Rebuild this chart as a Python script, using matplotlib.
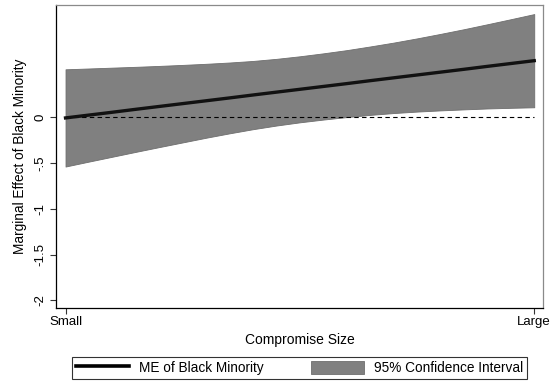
import numpy as np
import matplotlib as mpl
import matplotlib.pyplot as plt
from matplotlib.patches import Patch
from matplotlib.lines import Line2D

plt.rcParams['font.family'] = ['Liberation Sans', 'DejaVu Sans']

# compromise size (0 = small, 1 = large) and values
size = [0.00, 0.05, 0.10, 0.15, 0.20, 0.25, 0.30, 0.35, 0.40, 0.45, 0.50,
        0.55, 0.60, 0.65, 0.70, 0.75, 0.80, 0.85, 0.90, 0.95, 1.00]
me = [-0.010, 0.021, 0.052, 0.084, 0.115, 0.146, 0.177, 0.208, 0.240, 0.271, 0.302,
      0.333, 0.364, 0.396, 0.427, 0.458, 0.489, 0.520, 0.552, 0.583, 0.614]
ci_hi = [0.520, 0.529, 0.538, 0.547, 0.557, 0.568, 0.580, 0.594, 0.611, 0.634, 0.662,
         0.694, 0.729, 0.769, 0.811, 0.857, 0.906, 0.957, 1.011, 1.066, 1.122]
ci_lo = [-0.540, -0.486, -0.433, -0.380, -0.328, -0.277, -0.226, -0.178, -0.133, -0.093, -0.058,
         -0.028, -0.001, 0.023, 0.043, 0.059, 0.072, 0.083, 0.093, 0.100, 0.106]

yticks = [0, -0.5, -1, -1.5, -2]
ytick_labels = ['0', '-.5', '-1', '-1.5', '-2']
xtick_labels = ['Small', 'Large']

fig = plt.figure(figsize=(5.59, 3.81), dpi=100)
ax = fig.add_axes([0.1002, 0.1916, 0.8712, 0.7953])

ax.fill_between(size, ci_lo, ci_hi, color='#808080', edgecolor='#6e6e6e', linewidth=0.6, zorder=1)
ax.plot([size[0], size[-1]], [0, 0], color='black', linewidth=0.8, dashes=(4, 3), zorder=2)
ax.plot(size, me, color='#111111', linewidth=2.4, zorder=3)

ax.set_xlim(-0.0203, 1.0187)
ax.set_ylim(-2.082, 1.221)

ax.set_xticks([0, 1])
ax.set_xticklabels(xtick_labels, fontsize=9.5)
ax.set_yticks(yticks)
ax.set_yticklabels(ytick_labels, fontsize=9.5, rotation=90, va='center')
ax.tick_params(direction='out', length=4, width=0.8, color='#333333')
ax.tick_params(axis='x', pad=2)
ax.tick_params(axis='y', pad=3)

ax.spines['left'].set_color('black')
ax.spines['bottom'].set_color('black')
ax.spines['top'].set_color('#8a8a8a')
ax.spines['right'].set_color('#8a8a8a')
for s in ax.spines.values():
    s.set_linewidth(0.9)

ax.set_xlabel('Compromise Size', fontsize=10, labelpad=3)
ax.set_ylabel('Marginal Effect of Black Minority', fontsize=9.8, labelpad=5)

handles = [Line2D([0], [0], color='black', linewidth=2.6),
           Patch(facecolor='#808080', edgecolor='#6e6e6e', linewidth=0.6)]
labels = ['ME of Black Minority', '95% Confidence Interval']
leg = fig.legend(handles, labels, loc='lower left', ncol=2, mode='expand',
                 bbox_to_anchor=(72 / 559, 2 / 381, 455 / 559, 26 / 381),
                 fontsize=9.8, frameon=True, fancybox=False, borderaxespad=0,
                 handlelength=3.9, handleheight=1.1, handletextpad=0.75,
                 columnspacing=2.0, borderpad=0.3)
leg.get_frame().set_edgecolor('black')
leg.get_frame().set_linewidth(0.8)

fig.savefig('out.png', dpi=100)
